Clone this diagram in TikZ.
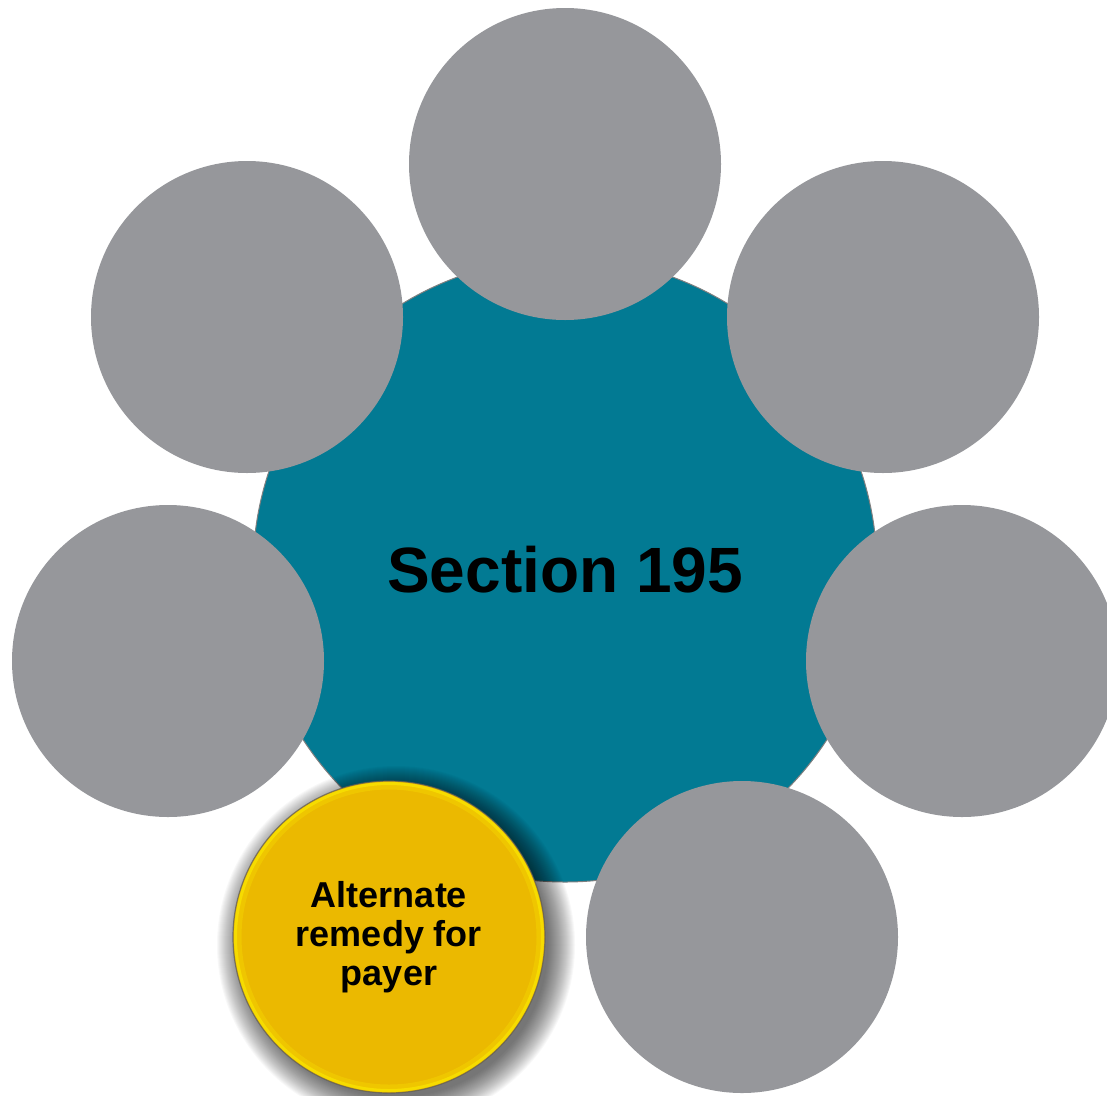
\documentclass[tikz,border=0pt]{standalone}
\usepackage{fontspec}
\setmainfont{Liberation Sans}
\definecolor{tealc}{RGB}{2,122,147}
\definecolor{grayc}{RGB}{150,151,155}
\definecolor{yin}{RGB}{235,185,0}
\definecolor{yout}{RGB}{250,230,0}
\tikzset{
  graybub/.style={circle, fill=grayc, minimum size=312pt, inner sep=0pt},
  hub/.style={circle, fill=tealc, draw=gray, line width=1pt, minimum size=624pt, inner sep=0pt,
    font=\fontsize{64pt}{70pt}\selectfont\bfseries},
  yelbub/.style={circle, fill=yin, draw=gray!70!black, line width=1.2pt, draw opacity=0.7, minimum size=312pt, inner sep=0pt},
  yeltext/.style={align=center, font=\fontsize{36pt}{39pt}\selectfont\bfseries},
  glow/.style={draw=yout, line width=3pt, opacity=0.7},
  glowsoft/.style={draw=yout, line width=7pt, opacity=0.3},
  shadowlayer/.style={fill=black, opacity=0.026}
}
\begin{document}
\begin{tikzpicture}[x=1pt,y=-1pt]
\useasboundingbox (0,0) rectangle (1107,1095);
\clip (0,0) rectangle (1107,1095);
\node[hub] (hub) at (565,570) {Section 195};
\node[graybub] (top) at (565,164) {};
\node[graybub] (ul) at (247,317) {};
\node[graybub] (ur) at (883,317) {};
\node[graybub] (l) at (168,661) {};
\node[graybub] (r) at (962,661) {};
\node[graybub] (br) at (742,937) {};
\coordinate (shc) at (396,945);
\foreach \k in {0,...,27} {\fill[shadowlayer] (shc) circle ({152+\k});}
\node[yelbub] (yb) at (389,937) {};
\draw[glowsoft] (yb.center) circle (151);
\draw[glow] (yb.center) circle (153.5);
\node[yeltext] (yt) at (yb.center) {Alternate\\remedy for\\payer};
\end{tikzpicture}
\end{document}
